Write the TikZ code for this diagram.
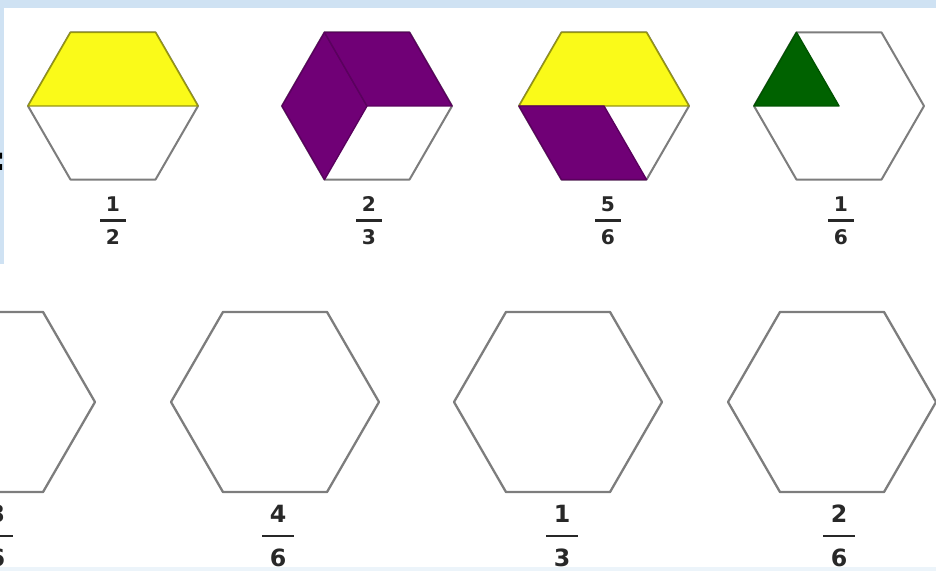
\documentclass[tikz,border=0pt]{standalone}
\usepackage{fontspec}
\setmainfont{DejaVu Sans}
\usepackage{xcolor}
\usetikzlibrary{calc}
\definecolor{hexgray}{RGB}{125,125,125}
\definecolor{pieceyellow}{RGB}{250,250,25}
\definecolor{piecepurple}{RGB}{112,0,118}
\definecolor{piecegreen}{RGB}{0,98,0}
\definecolor{frameblue}{RGB}{207,226,243}
\definecolor{digitgray}{RGB}{40,40,40}
\newcommand{\hexout}[1]{\draw[hexline] (0:#1) -- (60:#1) -- (120:#1) -- (180:#1) -- (240:#1) -- (300:#1) -- cycle;}

\begin{document}
\begin{tikzpicture}[
      x=0.02cm, y=-0.02cm,
      hexline/.style={draw=hexgray, line width=1.15pt, line join=round},
      yellowpiece/.style={fill=pieceyellow, draw=pieceyellow!60!black, line width=0.8pt, line join=round},
      purplepiece/.style={fill=piecepurple, draw=piecepurple!80!black, line width=0.8pt, line join=round},
      greenpiece/.style={fill=piecegreen, draw=piecegreen!85!black, line width=0.8pt, line join=round},
      digtop/.style={text=digitgray, font=\fontsize{11.5}{13}\selectfont\bfseries, inner sep=0pt},
      digbot/.style={text=digitgray, font=\fontsize{13.5}{16}\selectfont\bfseries, inner sep=0pt},
      bartop/.style={draw=digitgray, line width=1.2pt},
      barbot/.style={draw=digitgray, line width=1.5pt}
    ]
      \useasboundingbox (0,0) rectangle (936,571);
      % frame of the cut-out
      \fill[frameblue] (0,0) rectangle (936,8);
      \fill[frameblue] (0,0) rectangle (4,264);
      \fill[frameblue!40] (0,567) rectangle (936,571);
      \node[text=black, font=\fontsize{18}{20}\selectfont\bfseries, inner sep=0pt] (colon) at (0,162) {:};

      % top row
      \begin{scope}[shift={(113,106)}]
        \hexout{85}
        \draw[yellowpiece] (180:85) -- (240:85) -- (300:85) -- (0:85) -- cycle;
      \end{scope}
      \begin{scope}[shift={(367,106)}]
        \hexout{85}
        \draw[purplepiece] (180:85) -- (240:85) -- (0,0) -- (120:85) -- cycle;
        \draw[purplepiece] (240:85) -- (300:85) -- (0:85) -- (0,0) -- cycle;
      \end{scope}
      \begin{scope}[shift={(604,106)}]
        \hexout{85}
        \draw[yellowpiece] (180:85) -- (240:85) -- (300:85) -- (0:85) -- cycle;
        \draw[purplepiece] (180:85) -- (0,0) -- (60:85) -- (120:85) -- cycle;
      \end{scope}
      \begin{scope}[shift={(839,106)}]
        \hexout{85}
        \draw[greenpiece] (180:85) -- (240:85) -- (0,0) -- cycle;
      \end{scope}

      \foreach \x/\n/\d [count=\i] in {113/1/2, 369/2/3, 608/5/6, 841/1/6} {
        \node[digtop] (tn\i) at (\x,204) {\n};
        \node[digtop] (td\i) at (\x,237) {\d};
        \draw[bartop] ($(tn\i)!0.5!(td\i)$) +(-13,0) -- +(13,0);
      }

      % bottom row
      \foreach \cx in {-9,275,558,832} {
        \begin{scope}[shift={(\cx,402)}]
          \draw[hexline, line width=1.3pt] (0:104) -- (60:104) -- (120:104) -- (180:104) -- (240:104) -- (300:104) -- cycle;
        \end{scope}
      }
      \foreach \x/\n/\d [count=\i] in {-3/3/6, 278/4/6, 562/1/3, 839/2/6} {
        \node[digbot] (bn\i) at (\x,514) {\n};
        \node[digbot] (bd\i) at (\x,558) {\d};
        \draw[barbot] ($(bn\i)!0.5!(bd\i)$) +(-16,0) -- +(16,0);
      }
    \end{tikzpicture}
\end{document}
